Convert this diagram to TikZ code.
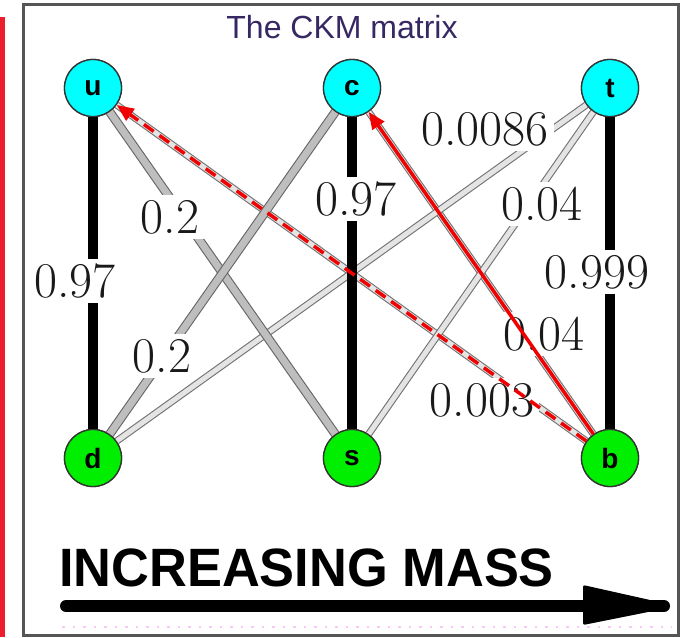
\documentclass[tikz,border=0pt]{standalone}
\usepackage{fontspec}
\setsansfont{Liberation Sans}
\usetikzlibrary{arrows.meta}
\definecolor{nodecyan}{RGB}{0,255,255}
\definecolor{nodegreen}{RGB}{0,238,0}
\definecolor{titlecol}{RGB}{55,40,100}
\definecolor{redbar}{RGB}{235,30,45}
\definecolor{arrred}{RGB}{240,0,0}
\definecolor{framecol}{RGB}{85,85,85}
\definecolor{midgray}{RGB}{190,190,190}
\definecolor{lightfill}{RGB}{228,228,228}
\definecolor{dotpink}{RGB}{250,200,245}
\tikzset{
  quark/.style={circle, draw=black!80, line width=1.3pt, minimum size=57pt, inner sep=0pt,
    font=\sffamily\bfseries\fontsize{28}{28}\selectfont},
  upq/.style={quark, fill=nodecyan},
  downq/.style={quark, fill=nodegreen},
  strongedge/.style={line width=10.5pt, black},
  midedge/.style={draw=black!60, line width=1.1pt, double=midgray, double distance=7pt},
  weakedge/.style={draw=black!55, line width=1.1pt, double=lightfill, double distance=5pt},
  elabel/.style={fill=white, inner sep=5pt, font=\fontsize{50}{50}\selectfont, text=black!90},
  redarrow/.style={arrred, line width=3.5pt, -{Triangle[length=17pt,width=14pt]}},
}
\begin{document}
\begin{tikzpicture}[x=1pt,y=-1pt]
\useasboundingbox (0,0) rectangle (684,637);
\fill[white] (0,0) rectangle (684,637);
% red bar at left
\fill[redbar] (0,17) rectangle (4.5,637);
% frame
\draw[framecol, line width=3pt] (23,4.5) rectangle (678,635);
% title
\node[font=\sffamily\fontsize{32}{32}\selectfont, text=titlecol] (title) at (342,27) {The CKM matrix};
% quarks
\node[upq] (u) at (93,88) {u};
\node[upq] (c) at (352,88) {c};
\node[upq] (t) at (610,88) {t};
\node[downq] (d) at (93,458) {d};
\node[downq] (s) at (352,458) {s};
\node[downq] (b) at (610,458) {b};
% edges
\draw[weakedge] (u) -- (b);
\draw[weakedge] (c) -- (b);
\draw[weakedge] (t) -- (s);
\draw[weakedge] (t) -- (d);
\draw[midedge] (u) -- (s);
\draw[midedge] (c) -- (d);
\draw[strongedge] (u) -- (d);
\draw[strongedge] (c) -- (s);
\draw[strongedge] (t) -- (b);
% labels
\node[elabel] (lud) at (75,281) {0.97};
\node[elabel] (lus) at (170,217) {0.2};
\node[elabel] (lcs) at (356,199) {0.97};
\node[elabel] (ltd) at (485,129) {0.0086};
\node[elabel] (lts) at (542,204) {0.04};
\node[elabel] (ltb) at (597,272) {0.999};
\node[elabel] (lcd) at (162,356) {0.2};
\node[elabel] (lcb) at (544,334) {0.04};
\node[elabel] (lub) at (482,400) {0.003};
% redraw quark nodes on top
\node[upq] at (u) {u};
\node[upq] at (c) {c};
\node[upq] at (t) {t};
\node[downq] at (d) {d};
\node[downq] at (s) {s};
\node[downq] at (b) {b};
% red arrows
\draw[redarrow] (b) -- (c);
\draw[redarrow, dash pattern=on 12pt off 7pt] (b) -- (u);
% increasing mass
\node[anchor=base west, inner sep=0pt, xscale=0.97, font=\sffamily\bfseries\fontsize{54}{54}\selectfont] (mass) at (59,586) {INCREASING MASS};
\coordinate (ms) at (66,606);
\coordinate (me) at (664,606);
\draw[line width=12pt, line cap=round] (ms) -- (me);
\fill[rounded corners=2pt] (583,585) -- (668,604) -- (668,608) -- (583,625) -- cycle;
\draw[dotpink, line width=2.5pt, dash pattern=on 2.5pt off 8pt] (62,627) -- (672,627);
\end{tikzpicture}
\end{document}
